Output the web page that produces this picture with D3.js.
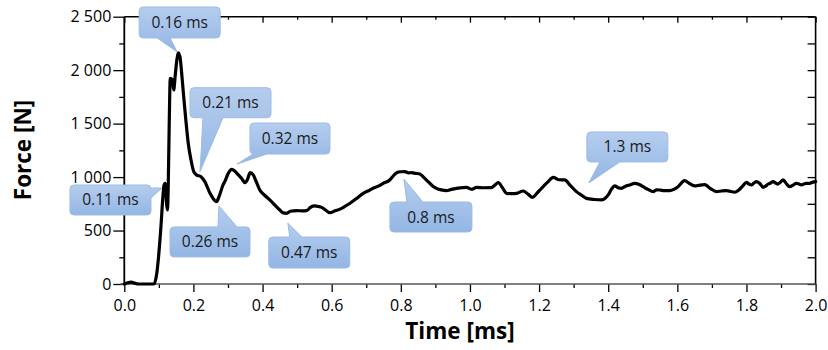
<!DOCTYPE html>
<html>
<head>
<meta charset="utf-8">
<script src="https://cdn.jsdelivr.net/npm/d3@7"></script>
<style>
  html, body { margin: 0; padding: 0; background: #fff; }
  svg { display: block; }
  text { font-family: "Open Sans", "Noto Sans", sans-serif; }
</style>
</head>
<body>
<svg id="chart" width="828" height="350"></svg>
<script>
// ---------- data ----------
const timeMs = [0, 0.01, 0.02, 0.03, 0.04, 0.06, 0.08, 0.086, 0.094, 0.100, 0.106, 0.111, 0.115, 0.118, 0.120, 0.122, 0.125, 0.127, 0.130, 0.133, 0.139, 0.143, 0.147, 0.152, 0.156, 0.161, 0.166, 0.171, 0.178, 0.185, 0.193, 0.201, 0.209, 0.222, 0.233, 0.248, 0.262, 0.267, 0.274, 0.286, 0.291, 0.300, 0.311, 0.320, 0.330, 0.340, 0.349, 0.356, 0.364, 0.373, 0.382, 0.392, 0.406, 0.421, 0.435, 0.450, 0.460, 0.470, 0.480, 0.499, 0.515, 0.527, 0.540, 0.551, 0.561, 0.571, 0.583, 0.595, 0.610, 0.624, 0.638, 0.653, 0.672, 0.691, 0.705, 0.720, 0.735, 0.749, 0.768, 0.778, 0.788, 0.800, 0.812, 0.822, 0.831, 0.843, 0.855, 0.867, 0.879, 0.891, 0.903, 0.917, 0.932, 0.946, 0.961, 0.975, 0.990, 1.005, 1.019, 1.040, 1.062, 1.072, 1.082, 1.094, 1.106, 1.120, 1.135, 1.154, 1.168, 1.181, 1.194, 1.207, 1.224, 1.241, 1.258, 1.274, 1.291, 1.308, 1.323, 1.337, 1.360, 1.381, 1.392, 1.400, 1.410, 1.419, 1.429, 1.438, 1.450, 1.462, 1.477, 1.490, 1.501, 1.515, 1.530, 1.540, 1.549, 1.563, 1.578, 1.590, 1.602, 1.621, 1.635, 1.650, 1.665, 1.679, 1.695, 1.713, 1.728, 1.742, 1.755, 1.766, 1.778, 1.790, 1.800, 1.807, 1.814, 1.822, 1.829, 1.840, 1.848, 1.855, 1.862, 1.870, 1.877, 1.884, 1.891, 1.899, 1.906, 1.915, 1.925, 1.935, 1.944, 1.952, 1.959, 1.966, 1.973, 1.981, 1.988, 2.0];
const forceN = [0, 12, 18, 8, 0, 0, 0, 0, 100, 287, 536, 786, 926, 942, 900, 760, 692, 900, 1503, 1924, 1908, 1815, 1939, 2095, 2163, 2126, 1971, 1784, 1534, 1316, 1160, 1051, 1020, 1004, 957, 848, 780, 770, 817, 930, 960, 1030, 1073, 1055, 1020, 985, 948, 975, 1041, 1020, 955, 879, 830, 786, 740, 692, 665, 661, 680, 686, 684, 686, 720, 730, 725, 717, 690, 667, 685, 700, 725, 755, 800, 848, 870, 895, 915, 942, 973, 1010, 1041, 1050, 1051, 1040, 1041, 1035, 1029, 995, 957, 920, 895, 880, 873, 885, 895, 900, 904, 886, 904, 900, 901, 925, 948, 900, 848, 845, 848, 870, 840, 811, 850, 895, 950, 998, 975, 973, 920, 864, 830, 801, 790, 786, 805, 833, 890, 917, 900, 895, 915, 926, 942, 930, 910, 885, 864, 880, 879, 873, 873, 885, 910, 966, 940, 917, 925, 929, 895, 864, 870, 873, 865, 858, 880, 920, 951, 935, 926, 945, 957, 935, 904, 915, 933, 945, 957, 945, 935, 955, 973, 940, 910, 925, 942, 935, 926, 935, 942, 940, 948, 957];

const xTickValues = [0, 0.2, 0.4, 0.6, 0.8, 1.0, 1.2, 1.4, 1.6, 1.8, 2.0];
const xTickLabels = ["0.0", "0.2", "0.4", "0.6", "0.8", "1.0", "1.2", "1.4", "1.6", "1.8", "2.0"];
const yTickValues = [0, 500, 1000, 1500, 2000, 2500];
const yTickLabels = ["0", "500", "1 000", "1 500", "2 000", "2 500"];

const calloutLabels = ["0.16 ms", "0.21 ms", "0.32 ms", "0.11 ms", "0.26 ms", "0.47 ms", "0.8 ms", "1.3 ms"];
const calloutTipT = [0.153, 0.219, 0.326, 0.109, 0.274, 0.473, 0.809, 1.344];
const calloutTipF = [2170, 1050, 1122, 898, 730, 570, 982, 945];

const xTitle = "Time [ms]";
const yTitle = "Force [N]";

// ---------- layout (pixels) ----------
// box offset relative to tip: [left, top, width, height], pointer side and base offsets
const calloutLayout = [
  { bx: -38, by: -45, w: 81, h: 31, side: "bottom", b0: -20, b1: -7 },
  { bx: -10, by: -84, w: 81, h: 30, side: "bottom", b0: 3, b1: 23 },
  { bx: 13, by: -41, w: 80, h: 31, side: "bottom", b0: 16, b1: 30 },
  { bx: -92, by: -3, w: 81, h: 30, side: "right", b0: 0, b1: 10 },
  { bx: -49, by: 21, w: 80, h: 30, side: "top", b0: -1, b1: 18 },
  { bx: -19, by: 14, w: 81, h: 31, side: "top", b0: 2, b1: 14 },
  { bx: -14, by: 23, w: 82, h: 30, side: "top", b0: 3, b1: 19 },
  { bx: -2, by: -51, w: 81, h: 30, side: "bottom", b0: 11, b1: 31 }
];

const plot = { left: 124.3, right: 815.6, top: 16.7, bottom: 284 };

const svg = d3.select("#chart");

const x = d3.scaleLinear().domain([0, 2]).range([plot.left, plot.right]);
const y = d3.scaleLinear().domain([0, 2500]).range([plot.bottom, plot.top]);

// gradient for callouts
const defs = svg.append("defs");
const grad = defs.append("linearGradient").attr("id", "cg").attr("x1", 0).attr("y1", 0).attr("x2", 0).attr("y2", 1);
grad.append("stop").attr("offset", "0%").attr("stop-color", "#b5cdee");
grad.append("stop").attr("offset", "100%").attr("stop-color", "#93b6e4");

// ---------- axes ----------
const minorX = d3.range(0.1, 2.0, 0.2);
const minorY = d3.range(250, 2500, 500);

function styleAxis(g) {
  g.select(".domain").remove();
  g.selectAll(".tick line").attr("stroke", "#000").attr("stroke-width", 1.3);
}

// bottom
svg.append("g").attr("transform", `translate(0,${plot.bottom})`)
  .call(d3.axisBottom(x).tickValues(xTickValues).tickSize(8).tickPadding(8)
    .tickFormat((d, i) => xTickLabels[i]))
  .call(styleAxis)
  .call(g => g.selectAll("text").attr("font-size", 16).attr("fill", "#000"));
svg.append("g").attr("transform", `translate(0,${plot.bottom})`)
  .call(d3.axisBottom(x).tickValues(minorX).tickSize(4).tickFormat(""))
  .call(styleAxis);

// left
svg.append("g").attr("transform", `translate(${plot.left},0)`)
  .call(d3.axisLeft(y).tickValues(yTickValues).tickSize(11).tickPadding(2)
    .tickFormat((d, i) => yTickLabels[i]))
  .call(styleAxis)
  .call(g => g.selectAll("text").attr("font-size", 16).attr("fill", "#000"));
svg.append("g").attr("transform", `translate(${plot.left},0)`)
  .call(d3.axisLeft(y).tickValues(minorY).tickSize(5).tickFormat(""))
  .call(styleAxis);

// top (inward ticks)
svg.append("g").attr("transform", `translate(0,${plot.top})`)
  .call(d3.axisTop(x).tickValues(xTickValues).tickSize(-6).tickFormat(""))
  .call(styleAxis);
svg.append("g").attr("transform", `translate(0,${plot.top})`)
  .call(d3.axisTop(x).tickValues(minorX).tickSize(-3).tickFormat(""))
  .call(styleAxis);

// right (inward ticks)
svg.append("g").attr("transform", `translate(${plot.right},0)`)
  .call(d3.axisRight(y).tickValues(yTickValues).tickSize(-8).tickFormat(""))
  .call(styleAxis);
svg.append("g").attr("transform", `translate(${plot.right},0)`)
  .call(d3.axisRight(y).tickValues(minorY).tickSize(-8).tickFormat(""))
  .call(styleAxis);

// frame
svg.append("line").attr("x1", plot.left).attr("x2", plot.right).attr("y1", plot.top).attr("y2", plot.top)
  .attr("stroke", "#000").attr("stroke-width", 1.6);
svg.append("line").attr("x1", plot.right).attr("x2", plot.right).attr("y1", plot.top).attr("y2", plot.bottom)
  .attr("stroke", "#000").attr("stroke-width", 1.6);
svg.append("line").attr("x1", plot.left).attr("x2", plot.left).attr("y1", plot.top).attr("y2", plot.bottom)
  .attr("stroke", "#000").attr("stroke-width", 1.8);
svg.append("line").attr("x1", plot.left - 4).attr("x2", plot.right).attr("y1", plot.bottom).attr("y2", plot.bottom)
  .attr("stroke", "#555").attr("stroke-width", 1.6);

// titles
svg.append("text").attr("x", 460).attr("y", 339).attr("text-anchor", "middle")
  .attr("font-size", 22.5).attr("font-weight", "bold").attr("fill", "#000").text(xTitle);
svg.append("text").attr("transform", `translate(31,150) rotate(-90)`)
  .attr("text-anchor", "middle").attr("font-size", 22.5).attr("font-weight", "bold").attr("fill", "#000").text(yTitle);

// ---------- line ----------
const series = timeMs.map((t, i) => ({ t, f: forceN[i] }));
const line = d3.line().x(d => x(d.t)).y(d => y(d.f)).curve(d3.curveMonotoneX);
svg.append("path").datum(series)
  .attr("d", line)
  .attr("fill", "none").attr("stroke", "#000").attr("stroke-width", 3.2)
  .attr("stroke-linejoin", "round").attr("stroke-linecap", "round");

// ---------- callouts ----------
function calloutPath(tx, ty, L) {
  const x0 = tx + L.bx, y0 = ty + L.by, x1 = x0 + L.w, y1 = y0 + L.h, r = 4;
  const p = d3.path();
  p.moveTo(x0 + r, y0);
  if (L.side === "top") { p.lineTo(tx + L.b0, y0); p.lineTo(tx, ty); p.lineTo(tx + L.b1, y0); }
  p.lineTo(x1 - r, y0);
  p.quadraticCurveTo(x1, y0, x1, y0 + r);
  if (L.side === "right") { p.lineTo(x1, ty + L.b0); p.lineTo(tx, ty); p.lineTo(x1, ty + L.b1); }
  p.lineTo(x1, y1 - r);
  p.quadraticCurveTo(x1, y1, x1 - r, y1);
  if (L.side === "bottom") { p.lineTo(tx + L.b1, y1); p.lineTo(tx, ty); p.lineTo(tx + L.b0, y1); }
  p.lineTo(x0 + r, y1);
  p.quadraticCurveTo(x0, y1, x0, y1 - r);
  p.lineTo(x0, y0 + r);
  p.quadraticCurveTo(x0, y0, x0 + r, y0);
  p.closePath();
  return p.toString();
}

const cg = svg.append("g");
calloutLabels.forEach((lab, i) => {
  const tx = x(calloutTipT[i]), ty = y(calloutTipF[i]);
  const L = calloutLayout[i];
  cg.append("path").attr("d", calloutPath(tx, ty, L))
    .attr("fill", "url(#cg)").attr("stroke", "#9dbbe4").attr("stroke-width", 1);
  cg.append("text").attr("x", tx + L.bx + L.w / 2).attr("y", ty + L.by + L.h / 2 + 5.5)
    .attr("text-anchor", "middle").attr("font-size", 15.5).attr("fill", "#1a1a1a").text(lab);
});
</script>
</body>
</html>
